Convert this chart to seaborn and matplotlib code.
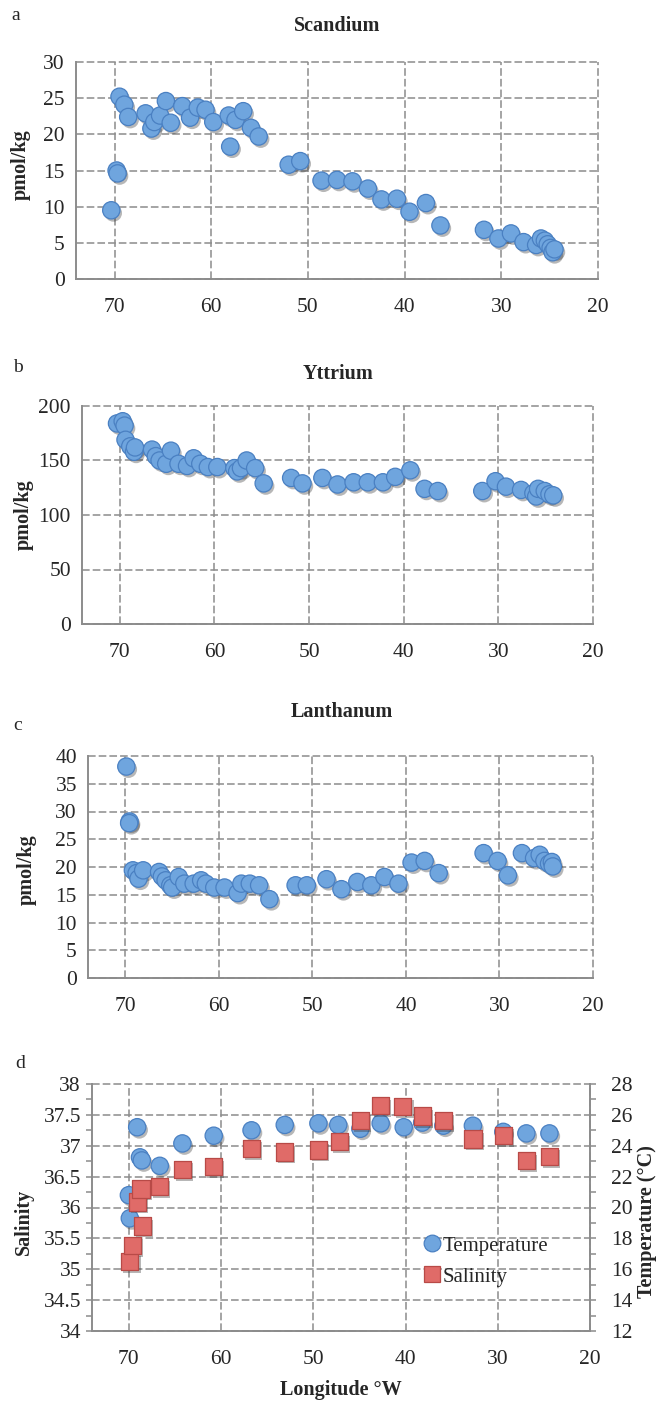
import matplotlib
matplotlib.use("Agg")
import matplotlib.pyplot as plt
import matplotlib.patheffects as pe
from matplotlib.ticker import MultipleLocator, FuncFormatter
from matplotlib.lines import Line2D
import seaborn as sns

# ---- data: longitude (°W) and concentrations ----
sc_lon = [70.35, 69.8, 69.7, 69.5, 69.0, 68.6, 66.8, 66.2, 65.9, 65.3, 64.7, 64.2, 63.0,
          62.2, 61.4, 60.6, 59.8, 58.2, 58.05, 57.5, 56.7, 55.9, 55.1, 52.0, 50.8, 48.6,
          47.0, 45.4, 43.8, 42.4, 40.8, 39.5, 37.8, 36.3, 31.8, 30.3, 29.0, 27.7, 26.4,
          25.9, 25.5, 25.2, 24.9, 24.7, 24.5]
sc_val = [9.5, 15.0, 14.6, 25.2, 24.1, 22.4, 22.9, 20.8, 21.7, 22.6, 24.6, 21.6, 23.9,
          22.3, 23.7, 23.4, 21.7, 22.6, 18.3, 22.0, 23.2, 20.9, 19.7, 15.8, 16.3, 13.6,
          13.7, 13.5, 12.5, 11.0, 11.1, 9.3, 10.5, 7.4, 6.8, 5.6, 6.3, 5.1, 4.7,
          5.6, 5.3, 4.8, 4.3, 3.7, 4.1]

y_lon = [70.3, 69.7, 69.5, 69.4, 68.9, 68.5, 68.4, 66.6, 66.2, 65.8, 65.1, 64.6, 63.8,
         62.9, 62.2, 61.5, 60.7, 59.7, 57.9, 57.6, 57.2, 56.6, 55.7, 54.8, 51.9, 50.7,
         48.6, 47.0, 45.3, 43.8, 42.2, 40.9, 39.3, 37.8, 36.4, 31.7, 30.3, 29.2, 27.6,
         26.3, 26.0, 25.8, 25.1, 24.6, 24.2]
y_val = [184, 186, 182, 169, 163, 158, 162, 160, 154, 150, 147, 159, 147,
         145, 152, 147, 144, 144, 143, 140, 143, 150, 143, 129, 134, 129,
         134, 128, 130, 130, 130, 135, 141, 124, 122, 122, 131, 126, 123,
         120, 117, 124, 122, 119, 118]

la_lon = [69.9, 69.55, 69.6, 69.2, 68.8, 68.6, 68.1, 66.4, 66.1, 65.7, 65.2, 65.0, 64.3,
          63.7, 62.7, 61.9, 61.4, 60.5, 59.4, 58.0, 57.6, 56.7, 55.7, 54.6, 51.8, 50.6,
          48.5, 46.9, 45.2, 43.7, 42.3, 40.8, 39.4, 38.0, 36.5, 31.7, 30.2, 29.1, 27.6,
          26.3, 25.7, 25.2, 24.7, 24.4, 24.3]
la_val = [38.1, 28.2, 27.9, 19.4, 18.9, 17.9, 19.4, 19.1, 18.3, 17.6, 16.7, 16.3, 18.2,
          17.0, 17.0, 17.6, 17.0, 16.3, 16.3, 15.3, 17.0, 17.0, 16.7, 14.2, 16.7, 16.7,
          17.8, 16.0, 17.3, 16.7, 18.2, 17.0, 20.8, 21.1, 18.9, 22.5, 21.1, 18.5, 22.5,
          21.6, 22.2, 21.1, 20.6, 20.9, 20.1]

temp_lon = [70.0, 69.9, 69.1, 68.8, 68.6, 66.65, 64.2, 60.8, 56.7, 53.1, 49.45, 47.3,
            44.9, 42.7, 40.2, 38.2, 35.9, 32.7, 29.4, 26.9, 24.4]
temp_val = [20.8, 19.3, 25.2, 23.25, 23.05, 22.7, 24.15, 24.65, 25.0, 25.35, 25.45, 25.35,
            25.1, 25.45, 25.2, 25.5, 25.3, 25.3, 24.9, 24.8, 24.8]

sal_lon = [69.9, 69.6, 69.1, 68.7, 68.5, 66.7, 64.2, 60.8, 56.7, 53.1, 49.45, 47.2,
           44.9, 42.7, 40.3, 38.2, 35.9, 32.7, 29.4, 26.9, 24.4]
sal_val = [35.12, 35.39, 36.09, 36.30, 35.70, 36.34, 36.62, 36.66, 36.96, 36.90, 36.93, 37.07,
           37.41, 37.65, 37.64, 37.48, 37.41, 37.11, 37.17, 36.76, 36.83]

# ---- style ----
sns.set_style("white")
plt.rcParams["font.family"] = ["Liberation Serif", "DejaVu Serif"]

W, H = 658, 1404
GRID = "#8c8c8c"
BLUE_FACE, BLUE_EDGE = "#6fa5de", "#4a80c2"
RED_FACE, RED_EDGE = "#e06b68", "#b84a47"
FS = 15.5      # tick labels
FT = 14.5      # titles / axis labels

fig = plt.figure(figsize=(W / 100, H / 100), dpi=100)


def px_axes(left, right, top, bottom):
    return fig.add_axes([left / W, 1 - bottom / H, (right - left) / W, (bottom - top) / H])


def ftext(x, y, s, **kw):
    fig.text(x / W, 1 - y / H, s, ha="center", va="center", **kw)


shadow = [pe.SimplePatchShadow(offset=(1.5, -2.0), shadow_rgbFace="#333333", alpha=0.35),
          pe.Normal()]
fmt = FuncFormatter(lambda v, p: f"{v:g}")


def style_axes(ax, ymin, ymax, ymajor, yminor):
    ax.set_xlim(74, 20)
    ax.set_ylim(ymin, ymax)
    ax.xaxis.set_major_locator(MultipleLocator(10))
    ax.xaxis.set_minor_locator(MultipleLocator(2))
    ax.yaxis.set_major_locator(MultipleLocator(ymajor))
    ax.yaxis.set_minor_locator(MultipleLocator(yminor))
    ax.yaxis.set_major_formatter(fmt)
    ax.xaxis.set_major_formatter(fmt)
    ax.grid(True, which="major", color=GRID, linestyle=(0, (5, 2)), linewidth=1.1)
    for gl in ax.get_xgridlines() + ax.get_ygridlines():
        gl.set_clip_on(False)
    for side in ("top", "right"):
        ax.spines[side].set_visible(False)
    for side in ("left", "bottom"):
        ax.spines[side].set_color(GRID)
        ax.spines[side].set_linewidth(1.4)
    ax.tick_params(axis="both", which="both", direction="out", color=GRID, width=1.1,
                   length=4, labelsize=FS)
    ax.tick_params(axis="x", which="major", pad=10)
    ax.tick_params(axis="y", which="major", pad=4)
    ax.set_xlabel("")
    ax.set_ylabel("")
    ax.set_axisbelow(True)


def blue_scatter(ax, x, y):
    sns.scatterplot(x=x, y=y, ax=ax, s=155, color=BLUE_FACE, edgecolor=BLUE_EDGE,
                    linewidth=0.9, zorder=3, legend=False)
    ax.collections[-1].set_path_effects(shadow)


# ---- panel a: Scandium ----
ax_a = px_axes(76, 598, 62, 279)
blue_scatter(ax_a, sc_lon, sc_val)
style_axes(ax_a, 0, 30, 5, 1)
ftext(337, 26, "Scandium", fontsize=FT, fontweight="bold")
ftext(16, 15, "a", fontsize=14)
ftext(21, 165, "pmol/kg", fontsize=FT, fontweight="bold", rotation=90)

# ---- panel b: Yttrium ----
ax_b = px_axes(82, 593, 406, 624)
blue_scatter(ax_b, y_lon, y_val)
style_axes(ax_b, 0, 200, 50, 10)
ftext(338, 374, "Yttrium", fontsize=FT, fontweight="bold")
ftext(18, 368, "b", fontsize=14)
ftext(24, 515, "pmol/kg", fontsize=FT, fontweight="bold", rotation=90)

# ---- panel c: Lanthanum ----
ax_c = px_axes(88, 593, 756, 978)
blue_scatter(ax_c, la_lon, la_val)
style_axes(ax_c, 0, 40, 5, 2.5)
ftext(342, 712, "Lanthanum", fontsize=FT, fontweight="bold")
ftext(18, 725, "c", fontsize=14)
ftext(27, 870, "pmol/kg", fontsize=FT, fontweight="bold", rotation=90)

# ---- panel d: temperature (right axis) and salinity (left axis) ----
ax_t = px_axes(92, 590, 1084, 1331)
blue_scatter(ax_t, temp_lon, temp_val)
style_axes(ax_t, 12, 28, 2, 1)

ax_s = ax_t.twinx()
sns.scatterplot(x=sal_lon, y=sal_val, ax=ax_s, s=155, marker="s", color=RED_FACE,
                edgecolor=RED_EDGE, linewidth=0.9, zorder=3, legend=False)
ax_s.collections[-1].set_path_effects(shadow)

# twinx puts the first axis on the left; swap sides so salinity reads on the left
ax_t.yaxis.tick_right()
ax_t.spines["left"].set_visible(False)
ax_t.spines["right"].set_visible(True)
ax_t.spines["right"].set_color(GRID)
ax_t.spines["right"].set_linewidth(1.4)
ax_t.tick_params(axis="y", which="both", direction="out", color=GRID, width=1.1,
                 length=4, labelsize=FS, left=False, right=True,
                 labelleft=False, labelright=True)
ax_t.tick_params(axis="y", which="major", pad=11)

ax_s.yaxis.tick_left()
ax_s.set_ylim(34, 38)
ax_s.yaxis.set_major_locator(MultipleLocator(0.5))
ax_s.yaxis.set_minor_locator(MultipleLocator(0.25))
ax_s.yaxis.set_major_formatter(fmt)
ax_s.set_ylabel("")
for side in ("top", "right", "bottom"):
    ax_s.spines[side].set_visible(False)
ax_s.spines["left"].set_visible(True)
ax_s.spines["left"].set_color(GRID)
ax_s.spines["left"].set_linewidth(1.4)
ax_s.tick_params(axis="y", which="both", direction="out", color=GRID, width=1.1,
                 length=4, labelsize=FS, left=True, right=False,
                 labelleft=True, labelright=False)
ax_s.tick_params(axis="y", which="major", pad=4)
ax_s.grid(False)

handles = [
    Line2D([], [], marker="o", linestyle="", markersize=12, markerfacecolor=BLUE_FACE,
           markeredgecolor=BLUE_EDGE, markeredgewidth=0.9),
    Line2D([], [], marker="s", linestyle="", markersize=11, markerfacecolor=RED_FACE,
           markeredgecolor=RED_EDGE, markeredgewidth=0.9),
]
leg = ax_s.legend(handles, ["Temperature", "Salinity"], loc="upper left",
                  bbox_to_anchor=(422 / W, 1 - 1236 / H), bbox_transform=fig.transFigure,
                  frameon=False, fontsize=15, handletextpad=0.0, handlelength=1.0,
                  labelspacing=0.55, borderpad=0, borderaxespad=0)

ftext(20, 1063, "d", fontsize=14)
ftext(24, 1222, "Salinity", fontsize=FT, fontweight="bold", rotation=90)
ftext(647, 1222, "Temperature (°C)", fontsize=FT, fontweight="bold", rotation=90)
ftext(341, 1390, "Longitude °W", fontsize=FT, fontweight="bold")

fig.savefig("out.png", dpi=100, facecolor="white")
